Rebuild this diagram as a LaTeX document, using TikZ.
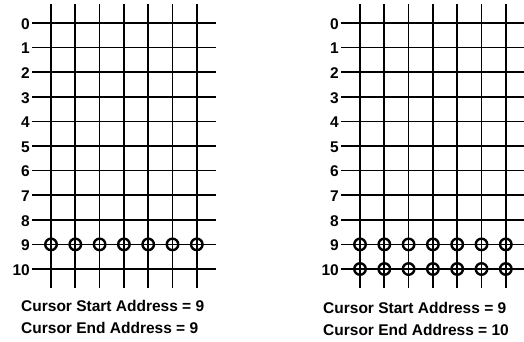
\documentclass[tikz,border=0pt]{standalone}
\usepackage{fontspec}
\setmainfont{Liberation Sans}
\begin{document}
\begin{tikzpicture}[
    x=1pt, y=-1pt,
    grid/.style={line width=1.7pt},
    dot/.style={circle, draw, line width=2.4pt, minimum size=11.5pt, inner sep=0pt},
    row/.style={anchor=east, inner sep=0pt, font=\bfseries\fontsize{15.5}{15.5}\selectfont},
    caption/.style={anchor=base west, inner sep=0pt, font=\bfseries\fontsize{15.5}{15.5}\selectfont}
]
  \useasboundingbox (0,0) rectangle (524,341);
  \foreach \p/\dx/\first/\last in {a/0/9/9, b/309/9/10} {
    \begin{scope}[xshift=\dx pt]
    % rows
    \foreach \r in {0,...,10} {
      \node[row] (\p\r) at (30,24+24.6*\r) {\r};
      \draw[grid] (\p\r.east) ++(2,-1) -- (216,23+24.6*\r);
    }
    % columns
    \foreach \c in {0,...,6}
      \draw[grid] (51+24.3*\c,4) -- (51+24.3*\c,288);
    % cursor
    \foreach \r in {\first,...,\last}
      \foreach \c in {0,...,6}
        \node[dot] (\p d\r-\c) at (51+24.3*\c,23+24.6*\r) {};
    \end{scope}
  }
  % captions
  \node[caption] (startA) at (21,311.5) {Cursor Start Address = 9};
  \node[caption] (endA)   at (21,333)   {Cursor End Address = 9};
  \node[caption] (startB) at (323,313.5) {Cursor Start Address = 9};
  \node[caption] (endB)   at (323,335)   {Cursor End Address = 10};
\end{tikzpicture}
\end{document}
